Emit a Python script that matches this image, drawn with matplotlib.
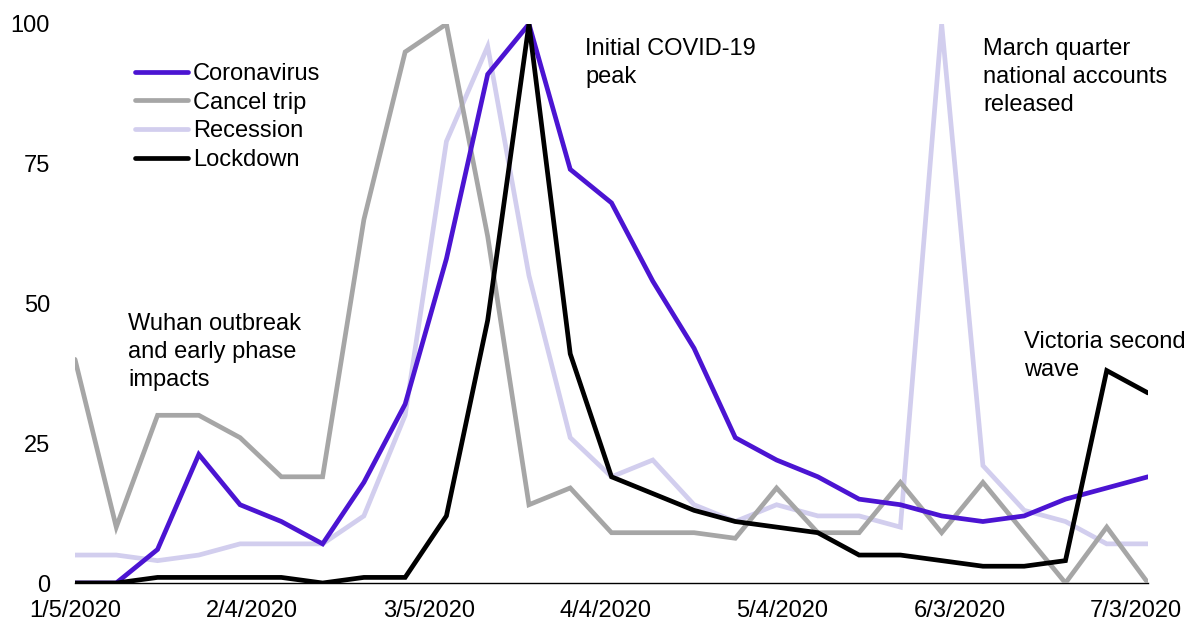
import matplotlib
matplotlib.use("Agg")
import matplotlib.pyplot as plt
import numpy as np
import pandas as pd

plt.rcParams['font.family'] = ['Liberation Sans', 'DejaVu Sans']

# ---- data ----
start_date = "2020-01-05"
n_weeks = 27
coronavirus = [0, 0, 6, 23, 14, 11, 7, 18, 32, 58, 91, 100, 74, 68, 54, 42,
               26, 22, 19, 15, 14, 12, 11, 12, 15, 17, 19]
cancel_trip = [40, 10, 30, 30, 26, 19, 19, 65, 95, 100, 62, 14, 17, 9, 9, 9,
               8, 17, 9, 9, 18, 9, 18, 9, 0, 10, 0]
recession = [5, 5, 4, 5, 7, 7, 7, 12, 30, 79, 96, 55, 26, 19, 22, 14,
             11, 14, 12, 12, 10, 100, 21, 13, 11, 7, 7]
lockdown = [0, 0, 1, 1, 1, 1, 0, 1, 1, 12, 47, 100, 41, 19, 16, 13,
            11, 10, 9, 5, 5, 4, 3, 3, 4, 38, 34]
series_names = ["Coronavirus", "Cancel trip", "Recession", "Lockdown"]
x_tick_dates = ["2020-01-05", "2020-02-04", "2020-03-05", "2020-04-04",
                "2020-05-04", "2020-06-03", "2020-07-03"]
x_tick_labels = ["1/5/2020", "2/4/2020", "3/5/2020", "4/4/2020",
                 "5/4/2020", "6/3/2020", "7/3/2020"]
y_ticks = [0, 25, 50, 75, 100]
annotations = [
    ("Wuhan outbreak\nand early phase\nimpacts", "2020-01-14", 48.3),
    ("Initial COVID-19\npeak", "2020-03-31 12:00", 97.5),
    ("March quarter\nnational accounts\nreleased", "2020-06-07", 97.5),
    ("Victoria second\nwave", "2020-06-14", 45.0),
]

dates = pd.date_range(start_date, periods=n_weeks, freq="7D")

colors = ["#4B14D2", "#A6A6A6", "#D2CEEE", "#000000"]
zorders = [3, 2, 1, 4]
FS = 17

fig = plt.figure(figsize=(11.94, 6.24), dpi=100)
ax = fig.add_axes([75 / 1194, 41 / 624, 1073 / 1194, 559 / 624])

for vals, name, c, z in zip([coronavirus, cancel_trip, recession, lockdown],
                            series_names, colors, zorders):
    ax.plot(dates, vals, color=c, lw=3.4, label=name, zorder=z,
            solid_joinstyle="miter", solid_capstyle="round")

ax.set_xlim(dates[0], dates[-1])
ax.set_ylim(0, 100)
ax.set_yticks(y_ticks)
ax.set_yticklabels([str(v) for v in y_ticks])
ax.set_xticks(pd.to_datetime(x_tick_dates))
ax.set_xticklabels(x_tick_labels)
ax.tick_params(axis="both", length=0, labelsize=FS)
ax.tick_params(axis="y", pad=18)
ax.tick_params(axis="x", pad=12)

for s in ["top", "right", "left"]:
    ax.spines[s].set_visible(False)
ax.spines["bottom"].set_color("black")
ax.spines["bottom"].set_linewidth(1.0)
ax.spines["bottom"].set_zorder(0.5)

for txt, d, yv in annotations:
    ax.text(pd.Timestamp(d), yv, txt, fontsize=FS, va="top", ha="left",
            linespacing=1.35)

leg = ax.legend(loc="upper left", bbox_to_anchor=(0.056, 0.93), frameon=False,
                fontsize=FS, handlelength=2.25, handletextpad=0.21,
                labelspacing=0.28, borderpad=0, borderaxespad=0)

fig.savefig("out.png", dpi=100)
